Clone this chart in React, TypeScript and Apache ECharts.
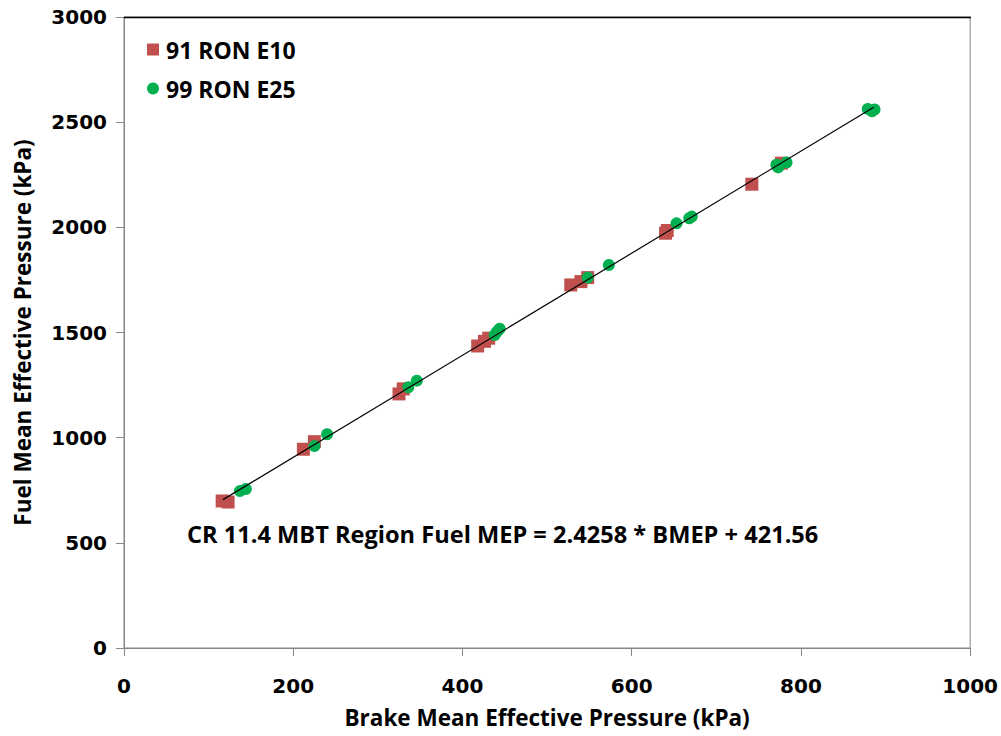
import React, { useEffect, useRef } from "react";
import * as echarts from "echarts";

// 91 RON E10 measurements (kPa)
const e10Bmep = [116, 123, 212, 225, 325, 330, 418, 426, 431, 528, 540, 548, 640, 642, 742, 777];
const e10Fmep = [699, 694, 945, 981, 1208, 1232, 1436, 1458, 1473, 1726, 1742, 1761, 1972, 1985, 2205, 2305];

// 99 RON E25 measurements (kPa)
const e25Bmep = [137, 144, 225, 240, 336, 346, 438, 441, 444, 548, 573, 653, 668, 671, 771, 773, 783, 879, 884, 887];
const e25Fmep = [746, 756, 960, 1016, 1240, 1271, 1488, 1505, 1518, 1761, 1821, 2019, 2043, 2051, 2298, 2285, 2308, 2563, 2552, 2560];

// Linear fit through both fuels
const fitSlope = 2.4258;
const fitIntercept = 421.56;
const fitRange = [117, 886];

const xTicks = [0, 200, 400, 600, 800, 1000];
const yTicks = [0, 500, 1000, 1500, 2000, 2500, 3000];

const e10Name = "91 RON E10";
const e25Name = "99 RON E25";
const equationLabel = `CR 11.4 MBT Region Fuel MEP = ${fitSlope} * BMEP + ${fitIntercept}`;

export default function App() {
  const ref = useRef<HTMLDivElement>(null);

  useEffect(() => {
    if (!ref.current) return;
    const chart = echarts.init(ref.current, null, { renderer: "svg" });

    const tickFont = "'DejaVu Sans', sans-serif";
    const titleFont = "'Open Sans', sans-serif";
    const axisGray = "#868686";
    const plain = (v: number) => String(v);

    chart.setOption({
      animation: false,
      backgroundColor: "#ffffff",
      grid: { left: 124, right: 30, top: 17, bottom: 88, show: true, borderColor: axisGray, borderWidth: 1 },
      legend: {
        orient: "vertical",
        left: 142,
        top: 33,
        itemGap: 16,
        itemWidth: 12,
        itemHeight: 12,
        textStyle: { fontFamily: titleFont, fontWeight: "bold", fontSize: 23, color: "#000", padding: [0, 0, 0, 2] },
        data: [
          { name: e10Name, icon: "rect", itemStyle: { color: "#C0504D" } },
          { name: e25Name, icon: "circle", itemStyle: { color: "#00B050" } },
        ],
      },
      xAxis: {
        type: "value",
        min: xTicks[0],
        max: xTicks[xTicks.length - 1],
        interval: xTicks[1] - xTicks[0],
        name: "Brake Mean Effective Pressure (kPa)",
        nameLocation: "middle",
        nameGap: 58,
        nameTextStyle: { fontFamily: titleFont, fontWeight: "bold", fontSize: 22.5, color: "#000" },
        splitLine: { show: false },
        axisLine: { lineStyle: { color: axisGray, width: 1 } },
        axisTick: { lineStyle: { color: axisGray }, length: 8 },
        axisLabel: { fontFamily: tickFont, fontWeight: "bold", fontSize: 20, color: "#000", margin: 28, formatter: plain },
      },
      yAxis: {
        type: "value",
        min: yTicks[0],
        max: yTicks[yTicks.length - 1],
        interval: yTicks[1] - yTicks[0],
        name: "Fuel Mean Effective Pressure (kPa)",
        nameLocation: "middle",
        nameGap: 90,
        nameTextStyle: { fontFamily: titleFont, fontWeight: "bold", fontSize: 22.5, color: "#000" },
        splitLine: { show: false },
        axisLine: { lineStyle: { color: axisGray, width: 1 } },
        axisTick: { lineStyle: { color: axisGray }, length: 8 },
        axisLabel: { fontFamily: tickFont, fontWeight: "bold", fontSize: 20, color: "#000", margin: 17, formatter: plain },
      },
      series: [
        {
          name: "fit",
          type: "line",
          data: fitRange.map((x) => [x, fitSlope * x + fitIntercept]),
          symbol: "none",
          lineStyle: { color: "#000", width: 1.2 },
          z: 3,
        },
        {
          name: e10Name,
          type: "scatter",
          symbol: "rect",
          symbolSize: 13,
          itemStyle: { color: "#C0504D", opacity: 1 },
          data: e10Bmep.map((x, i) => [x, e10Fmep[i]]),
          z: 2,
        },
        {
          name: e25Name,
          type: "scatter",
          symbol: "circle",
          symbolSize: 12,
          itemStyle: { color: "#00B050", opacity: 1 },
          data: e25Bmep.map((x, i) => [x, e25Fmep[i]]),
          z: 2,
        },
      ],
      graphic: [
        {
          type: "line",
          shape: { x1: 124, y1: 17.5, x2: 971, y2: 17.5 },
          style: { stroke: "#000", lineWidth: 1.5 },
          z: 10,
        },
        {
          type: "text",
          left: 187,
          top: 522,
          style: {
            text: equationLabel,
            fontFamily: titleFont,
            fontWeight: "bold",
            fontSize: 23.6,
            fill: "#000",
          },
        },
      ],
    });

    return () => chart.dispose();
  }, []);

  return (
    <div
      ref={ref}
      style={{ position: "fixed", left: 0, top: 0, width: 1001, height: 736, background: "#fff" }}
    />
  );
}
